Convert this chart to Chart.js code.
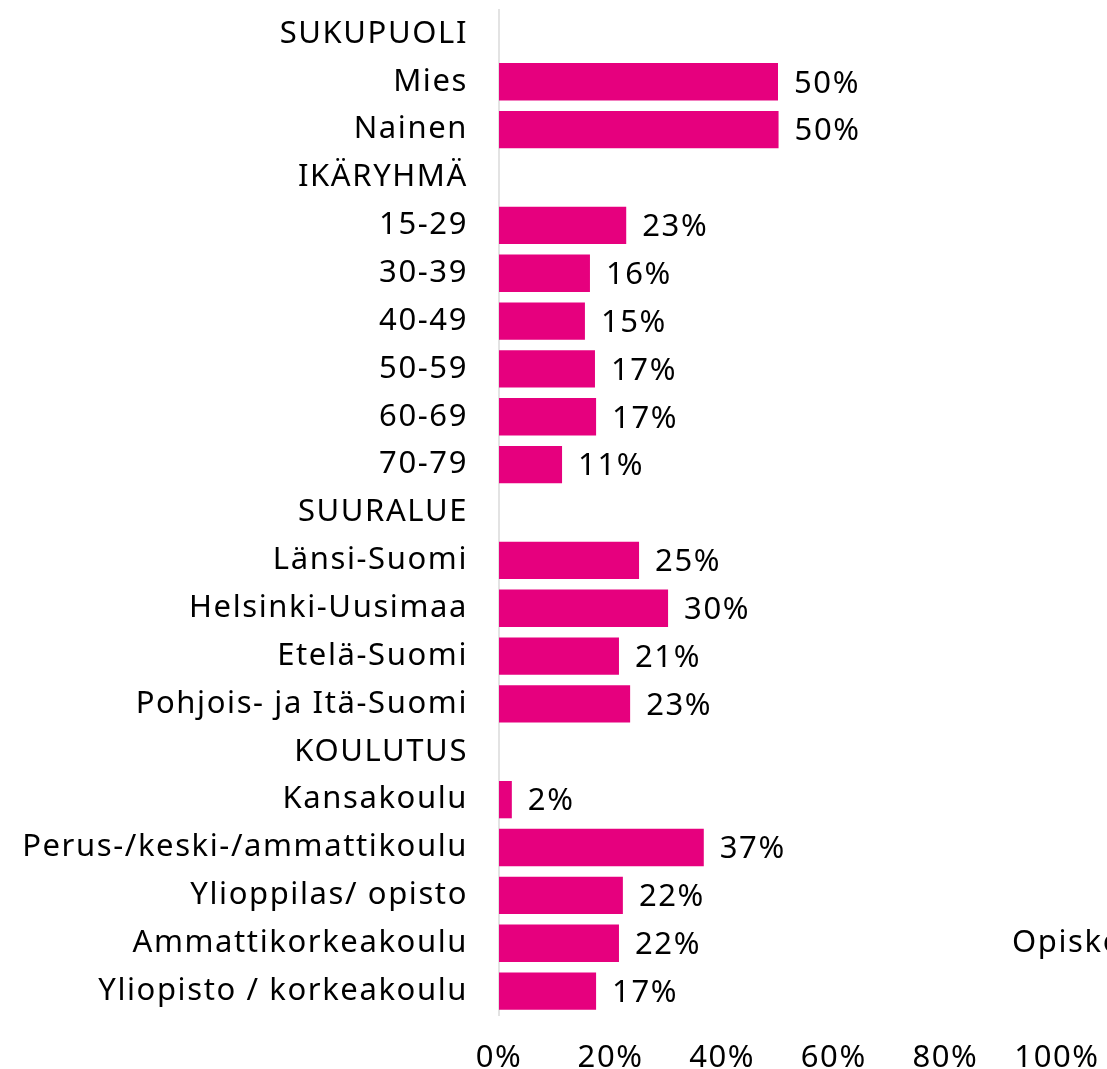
<!DOCTYPE html>
<html>
<head>
<meta charset="utf-8">
<script src="https://cdn.jsdelivr.net/npm/chart.js@4"></script>
<style>
  html, body { margin: 0; padding: 0; background: #fff; }
  #wrap { width: 1107px; height: 1069px; position: relative; }
</style>
</head>
<body>
<div id="wrap"><canvas id="barChart"></canvas></div>
<script>
const categories = [
    'SUKUPUOLI', 'Mies', 'Nainen',
    'IKÄRYHMÄ', '15-29', '30-39', '40-49', '50-59', '60-69', '70-79',
    'SUURALUE', 'Länsi-Suomi', 'Helsinki-Uusimaa', 'Etelä-Suomi', 'Pohjois- ja Itä-Suomi',
    'KOULUTUS', 'Kansakoulu', 'Perus-/keski-/ammattikoulu', 'Ylioppilas/ opisto', 'Ammattikorkeakoulu', 'Yliopisto / korkeakoulu'
];
// null = group header row (no bar)
const shares = [
    null, 50.0, 50.1,
    null, 22.8, 16.3, 15.4, 17.2, 17.4, 11.3,
    null, 25.1, 30.3, 21.5, 23.5,
    null, 2.3, 36.7, 22.2, 21.5, 17.4
];
const shareLabels = [
    '', '50%', '50%',
    '', '23%', '16%', '15%', '17%', '17%', '11%',
    '', '25%', '30%', '21%', '23%',
    '', '2%', '37%', '22%', '22%', '17%'
];
const xTicks = [0, 20, 40, 60, 80, 100];
const sideText = 'Opiskelija';

const FONT = '"Noto Sans", sans-serif';
const FONT_SIZE = 31;
const SPACING = '1.6px';

// wider letter spacing like the original font
const spacing = {
    id: 'spacing',
    beforeUpdate(chart) { chart.ctx.letterSpacing = SPACING; },
    beforeDraw(chart) { chart.ctx.letterSpacing = SPACING; }
};

// value labels at the end of each bar + the clipped text on the right
const valueLabels = {
    id: 'valueLabels',
    afterDatasetsDraw(chart) {
        const ctx = chart.ctx;
        const meta = chart.getDatasetMeta(0);
        ctx.save();
        ctx.letterSpacing = SPACING;
        ctx.font = FONT_SIZE + 'px ' + FONT;
        ctx.fillStyle = '#000';
        ctx.textAlign = 'left';
        ctx.textBaseline = 'middle';
        meta.data.forEach((bar, i) => {
            if (shares[i] === null) return;
            ctx.fillText(shareLabels[i], bar.x + 16, bar.y + 2);
        });
        const y = chart.scales.y.getPixelForValue(19);
        ctx.fillText(sideText, 1012, y);
        ctx.restore();
    }
};

const ctx = document.getElementById('barChart').getContext('2d');
new Chart(ctx, {
    type: 'bar',
    data: {
        labels: categories,
        datasets: [{
            data: shares,
            backgroundColor: '#E6007E',
            borderWidth: 0,
            barPercentage: 0.78,
            categoryPercentage: 1
        }]
    },
    options: {
        indexAxis: 'y',
        responsive: true,
        maintainAspectRatio: false,
        animation: false,
        layout: { padding: { top: 10, right: 50, left: 0, bottom: 0 } },
        plugins: {
            legend: { display: false },
            tooltip: { enabled: false }
        },
        scales: {
            x: {
                min: 0,
                max: 100,
                afterBuildTicks: scale => { scale.ticks = xTicks.map(v => ({ value: v })); },
                grid: { display: false },
                border: { display: false },
                ticks: {
                    color: '#000',
                    padding: 17,
                    maxRotation: 0,
                    font: { family: FONT, size: FONT_SIZE },
                    callback: v => v + '%'
                },
                afterFit: scale => {
                    scale.height = 54;
                    scale.paddingLeft = 0;
                    scale.paddingRight = 0;
                }
            },
            y: {
                grid: { display: false },
                border: { display: true, color: '#e3e3e3', width: 2 },
                ticks: {
                    color: '#000',
                    padding: 23,
                    autoSkip: false,
                    font: { family: FONT, size: FONT_SIZE }
                },
                afterFit: scale => {
                    scale.width = 499;
                    scale.paddingTop = 0;
                    scale.paddingBottom = 0;
                }
            }
        }
    },
    plugins: [spacing, valueLabels]
});
</script>
</body>
</html>
